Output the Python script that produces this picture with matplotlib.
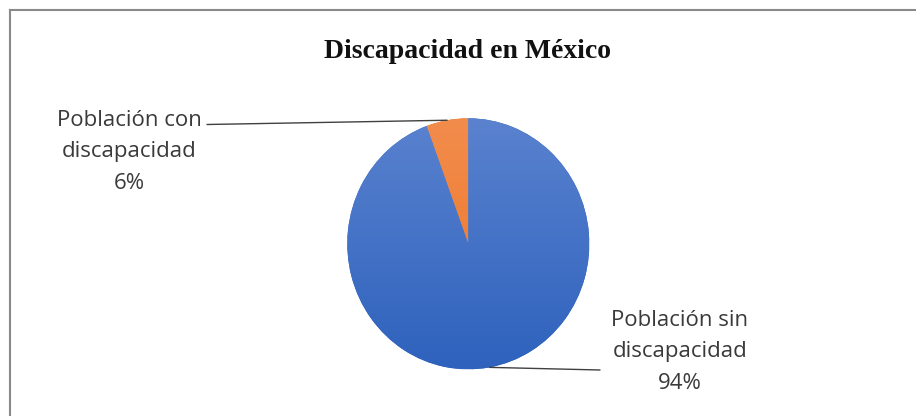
import numpy as np
import matplotlib
matplotlib.use("Agg")
import matplotlib.pyplot as plt
from matplotlib.lines import Line2D

# datos
categorias = ["Población con\ndiscapacidad", "Población sin\ndiscapacidad"]
porcentajes = [5.6, 94.4]
titulo = "Discapacidad en México"

W, H = 916, 416
fig = plt.figure(figsize=(W / 100, H / 100), dpi=100)
fig.patch.set_facecolor("white")

# marco gris (solo arriba e izquierda, como en el recorte original)
fig.add_artist(Line2D([9.5 / W, 1], [1 - 9.5 / H, 1 - 9.5 / H], transform=fig.transFigure,
                      color="#8a8a8a", lw=1.5))
fig.add_artist(Line2D([9.5 / W, 9.5 / W], [0, 1 - 9.5 / H], transform=fig.transFigure,
                      color="#8a8a8a", lw=1.5))

# ejes del pastel, colocados sobre la caja del círculo
x0, x1, y0, y1 = 347.3, 589.3, 118.3, 369.3
ax = fig.add_axes([x0 / W, 1 - y1 / H, (x1 - x0) / W, (y1 - y0) / H])

colores_arriba = ["#f28c4c", "#5a82cf"]
colores_abajo = ["#ec7425", "#2e62bd"]

wedges, _ = ax.pie(porcentajes, colors=colores_abajo, startangle=90, counterclock=True,
                   radius=1, wedgeprops=dict(linewidth=0))
ax.set_aspect("auto")
ax.set_xlim(-1, 1)
ax.set_ylim(-1, 1)
ax.axis("off")

# degradado vertical dentro de cada sector
for w, c_top, c_bot in zip(wedges, colores_arriba, colores_abajo):
    top = np.array(matplotlib.colors.to_rgb(c_top))
    bot = np.array(matplotlib.colors.to_rgb(c_bot))
    t = np.linspace(0, 1, 256)[:, None]
    grad = (top[None, :] * (1 - t) + bot[None, :] * t)[:, None, :]
    im = ax.imshow(grad, extent=(-1, 1, -1, 1), aspect="auto", origin="upper", zorder=2)
    im.set_clip_path(w)

# líneas guía y etiquetas
def px(x, y):
    return (x, H - y)

angulos = []
inicio = 90
for p in porcentajes:
    ang = inicio + p * 360 / 100 / 2
    angulos.append(np.deg2rad(ang))
    inicio += p * 360 / 100

fin_linea = [px(207, 124.5), px(600, 370)]
centro_texto = [px(129, 152), px(680, 352)]

for cat, p, a, fl, ct in zip(categorias, porcentajes, angulos, fin_linea, centro_texto):
    ax.annotate("", xy=(np.cos(a), np.sin(a)), xycoords="data",
                xytext=fl, textcoords="figure pixels",
                arrowprops=dict(arrowstyle="-", color="#404040", lw=1,
                                shrinkA=0, shrinkB=0), zorder=5)
    fig.text(ct[0] / W, ct[1] / H, f"{cat}\n{p:.0f}%", ha="center", va="center",
             fontsize=16, family="Open Sans", color="#3a3a3a", linespacing=1.63)

fig.text(467 / W, 1 - 57.5 / H, titulo, ha="center", va="baseline",
         fontsize=20, family="Liberation Serif", fontweight="bold", color="#111111")

fig.savefig("out.png", dpi=100)
